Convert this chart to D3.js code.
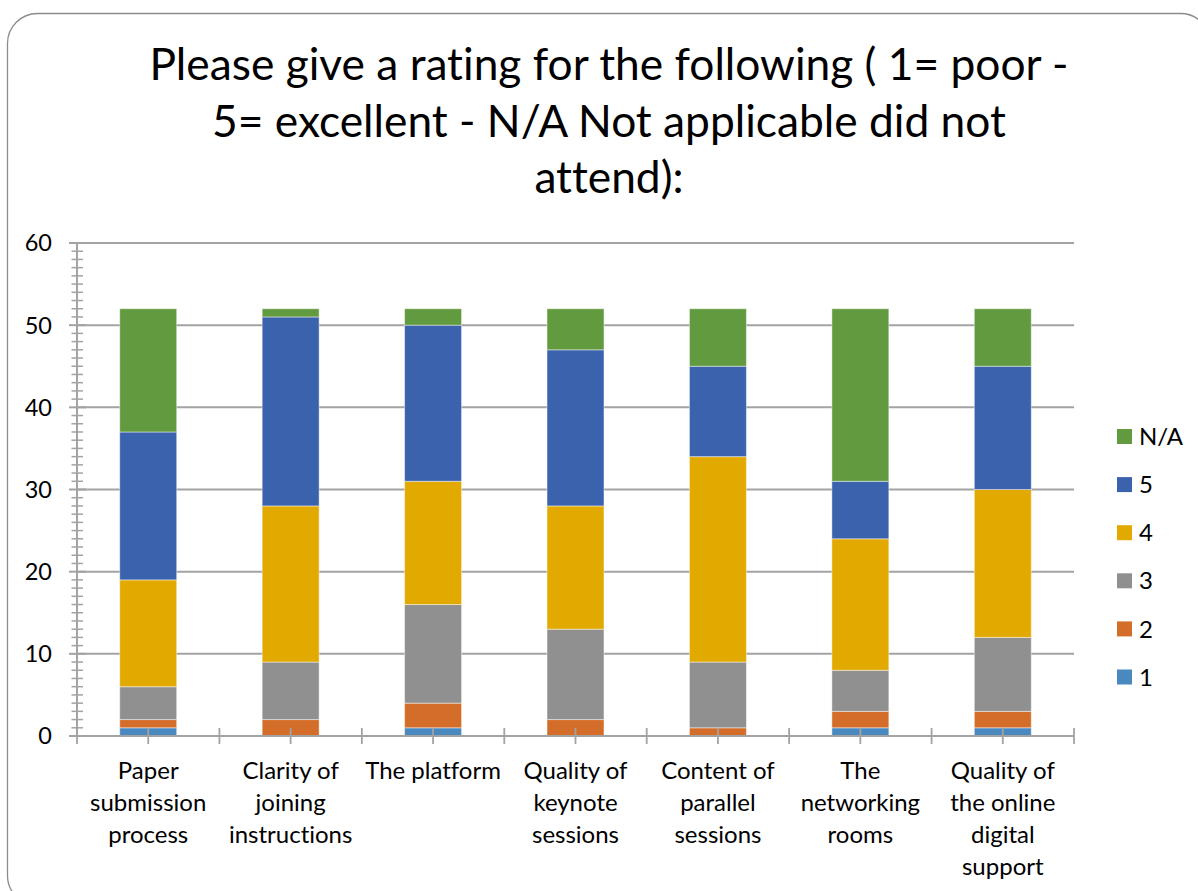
<!DOCTYPE html>
<html>
<head>
<meta charset="utf-8">
<script src="https://cdn.jsdelivr.net/npm/d3@7"></script>
<style>
  html, body { margin: 0; padding: 0; background: #fff; }
  svg { display: block; }
  text { font-family: Lato, "Noto Sans", sans-serif; fill: #000; font-variant-ligatures: none; }
</style>
</head>
<body>
<svg id="chart" width="1198" height="891"></svg>
<script>
// Survey ratings per session aspect (counts of respondents)
const categories = [
  "Paper\nsubmission\nprocess",
  "Clarity of\njoining\ninstructions",
  "The platform",
  "Quality of\nkeynote\nsessions",
  "Content of\nparallel\nsessions",
  "The\nnetworking\nrooms",
  "Quality of\nthe online\ndigital\nsupport"
];
const seriesNames = ["1", "2", "3", "4", "5", "N/A"];
const rating1  = [1, 0, 1, 0, 0, 1, 1];
const rating2  = [1, 2, 3, 2, 1, 2, 2];
const rating3  = [4, 7, 12, 11, 8, 5, 9];
const rating4  = [13, 19, 15, 15, 25, 16, 18];
const rating5  = [18, 23, 19, 19, 11, 7, 15];
const ratingNA = [15, 1, 2, 5, 7, 21, 7];
const yTicks = [0, 10, 20, 30, 40, 50, 60];
const titleLines = [
  "Please give a rating for the following ( 1= poor -",
  "5= excellent - N/A Not applicable did not",
  "attend):"
];

const colors = ["#4a88c0", "#d46d2a", "#909090", "#e2aa00", "#3b63ad", "#629b3f"];
const seriesValues = [rating1, rating2, rating3, rating4, rating5, ratingNA];

const rows = categories.map((c, i) => {
  const r = { cat: c };
  seriesNames.forEach((s, k) => { r[s] = seriesValues[k][i]; });
  return r;
});

const svg = d3.select("#chart");

// Rounded frame
svg.append("rect")
  .attr("x", 7.5).attr("y", 13.5)
  .attr("width", 1203).attr("height", 892)
  .attr("rx", 30).attr("ry", 30)
  .attr("fill", "none").attr("stroke", "#8c8c8c").attr("stroke-width", 1.3);

// Title
const title = svg.append("g");
titleLines.forEach((t, i) => {
  title.append("text")
    .attr("x", 609).attr("y", 80 + i * 56.5)
    .attr("text-anchor", "middle")
    .style("font-size", "44.3px")
    .text(t);
});

const plotLeft = 77, plotRight = 1074, plotTop = 243, plotBottom = 736;
const x = d3.scaleBand().domain(categories).range([plotLeft, plotRight])
  .paddingInner(0.6).paddingOuter(0.3);
const y = d3.scaleLinear().domain([0, 60]).range([plotBottom, plotTop]);

const gridColor = "#a3a3a3";

// Horizontal gridlines
svg.append("g").selectAll("line").data(yTicks.filter(d => d > 0)).join("line")
  .attr("x1", plotLeft).attr("x2", plotRight)
  .attr("y1", d => y(d)).attr("y2", d => y(d))
  .attr("stroke", gridColor).attr("stroke-width", 2);

// Stacked bars
const stack = d3.stack().keys(seriesNames)(rows);
svg.append("g").selectAll("g").data(stack).join("g")
  .attr("fill", (d, i) => colors[i])
  .selectAll("rect").data(d => d.filter(p => p[1] - p[0] > 0)).join("rect")
  .attr("x", d => x(d.data.cat))
  .attr("width", x.bandwidth())
  .attr("y", d => y(d[1]))
  .attr("height", d => y(d[0]) - y(d[1]))
  .attr("stroke", "rgba(255,255,255,0.45)")
  .attr("stroke-width", 1);

// Y axis: line, major and minor ticks, labels
const yAxis = svg.append("g");
yAxis.append("line")
  .attr("x1", plotLeft).attr("x2", plotLeft).attr("y1", y(60)).attr("y2", y(0))
  .attr("stroke", gridColor).attr("stroke-width", 2);
yAxis.selectAll("line.minor").data(d3.range(0, 61)).join("line")
  .attr("class", "minor")
  .attr("x1", d => d % 10 === 0 ? plotLeft - 8 : plotLeft - 5.5)
  .attr("x2", d => d % 10 === 0 ? plotLeft + 9 : plotLeft + 6)
  .attr("y1", d => y(d)).attr("y2", d => y(d))
  .attr("stroke", gridColor).attr("stroke-width", d => d % 10 === 0 ? 2 : 1.5);
yAxis.selectAll("text").data(yTicks).join("text")
  .attr("x", 52).attr("y", d => y(d))
  .attr("dy", "0.36em")
  .attr("text-anchor", "end")
  .style("font-size", "23.5px")
  .text(d => d);

// X axis line and ticks (category boundaries and centres)
const xAxis = svg.append("g");
xAxis.append("line")
  .attr("x1", plotLeft).attr("x2", plotRight).attr("y1", plotBottom).attr("y2", plotBottom)
  .attr("stroke", gridColor).attr("stroke-width", 2);
const step = x.step();
xAxis.selectAll("line.tick").data(d3.range(0, categories.length * 2 + 1)).join("line")
  .attr("class", "tick")
  .attr("x1", d => plotLeft + d * step / 2).attr("x2", d => plotLeft + d * step / 2)
  .attr("y1", plotBottom - 8).attr("y2", plotBottom + 8)
  .attr("stroke", gridColor).attr("stroke-width", 1.8);

// Category labels
const labels = svg.append("g").selectAll("text").data(categories).join("text")
  .attr("text-anchor", "middle")
  .style("font-size", "24px")
  .attr("transform", d => `translate(${x(d) + x.bandwidth() / 2},779)`);
labels.each(function(d) {
  d.split("\n").forEach((line, i) => {
    d3.select(this).append("tspan").attr("x", 0).attr("y", i * 32).text(line);
  });
});

// Legend (top to bottom: N/A, 5, 4, 3, 2, 1)
const legendOrder = seriesNames.map((s, i) => ({ name: s, color: colors[i] })).reverse();
const legend = svg.append("g").selectAll("g").data(legendOrder).join("g")
  .attr("transform", (d, i) => `translate(1117,${436.5 + i * 48.1})`);
legend.append("rect")
  .attr("x", 0).attr("y", -7.5).attr("width", 15).attr("height", 15)
  .attr("fill", d => d.color);
legend.append("text")
  .attr("x", 22).attr("y", 0).attr("dy", "0.36em")
  .style("font-size", "24px")
  .text(d => d.name);
</script>
</body>
</html>
